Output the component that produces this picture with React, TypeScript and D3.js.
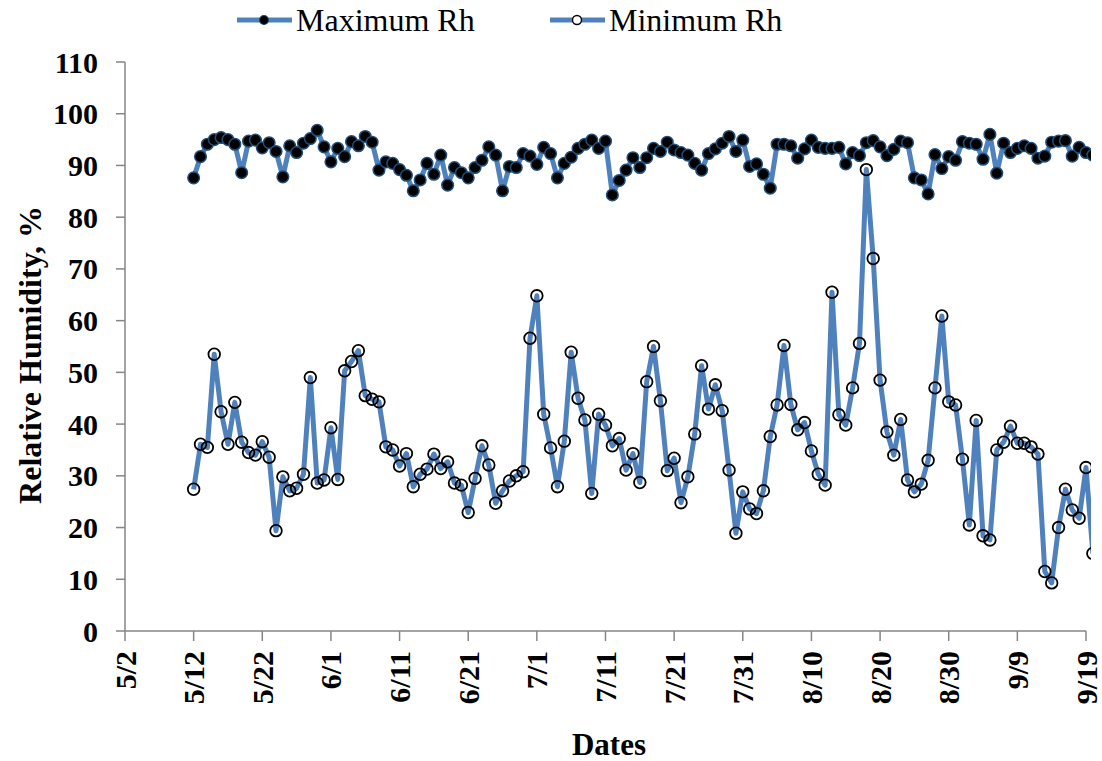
import React from "react";
import * as d3 from "d3";

// Daily relative humidity, 5/12 .. 9/20 (last point clipped by plot edge)
const startDay = 10; // 5/12 is 10 days after 5/2
const maxRh: number[] = [
  87.6, 91.7, 94.1, 95.0, 95.4, 95.0, 94.1, 88.6, 94.7, 94.9, 93.4, 94.4, 92.7, 87.8, 93.8, 92.5, 94.3, 95.2, 96.8, 93.6,
  90.7, 93.3, 91.7, 94.6, 93.8, 95.6, 94.5, 89.1, 90.7, 90.4, 89.2, 88.1, 85.1, 87.2, 90.4, 88.3, 92.0, 86.2, 89.6, 88.6,
  87.6, 89.6, 91.0, 93.6, 92.0, 85.1, 89.8, 89.6, 92.3, 91.8,
  90.2, 93.5, 92.3, 87.6, 90.4, 91.6, 93.3, 94.1, 94.9, 93.3, 94.7, 84.3, 87.1, 89.1, 91.5, 89.6, 91.5, 93.3, 92.7, 94.5,
  93.0, 92.5, 92.0, 90.4, 89.1, 92.3, 93.2, 94.3, 95.6, 92.7, 94.9,
  89.8, 90.3, 88.3, 85.6, 94.1, 94.1, 93.8, 91.4, 93.2, 94.9, 93.5, 93.3, 93.3, 93.5, 90.3, 92.5, 91.9, 94.4, 94.8, 93.6,
  91.9, 93.1, 94.7, 94.4, 87.6, 87.2, 84.5, 92.1, 89.4, 91.7, 91.0,
  94.6, 94.3, 94.1, 91.2, 96.0, 88.5, 94.3, 92.5, 93.3, 93.8, 93.3, 91.4, 91.8, 94.5, 94.7, 94.8, 91.8, 93.5, 92.5, 92.0,
];
const minRh: number[] = [
  27.4, 36.1, 35.5, 53.5, 42.4, 36.1, 44.2, 36.5, 34.5, 34.0, 36.6, 33.6, 19.4, 29.8, 27.1, 27.6, 30.3, 49.0, 28.6, 29.2,
  39.3, 29.3, 50.3, 52.1, 54.2, 45.5, 44.8, 44.3, 35.6, 35.0, 31.9, 34.3, 27.9, 30.3, 31.3, 34.2, 31.4, 32.7, 28.6, 28.2,
  22.9, 29.5, 35.8, 32.1, 24.7, 27.1, 29.0, 30.0, 30.8, 56.6,
  64.8, 41.9, 35.4, 27.9, 36.7, 53.9, 45.0, 40.8, 26.6, 41.9, 39.8, 35.8, 37.2, 31.1, 34.3, 28.7, 48.2, 55.0, 44.5, 31.0,
  33.4, 24.8, 29.8, 38.1, 51.3, 42.9, 47.6, 42.6, 31.1, 18.9, 26.9,
  23.6, 22.7, 27.1, 37.6, 43.7, 55.2, 43.8, 38.9, 40.3, 34.8, 30.3, 28.2, 65.5, 41.8, 39.8, 47.0, 55.6, 89.2, 72.0, 48.5,
  38.5, 34.0, 40.9, 29.2, 26.9, 28.4, 33.0, 47.0, 60.9, 44.3, 43.7,
  33.2, 20.5, 40.7, 18.4, 17.6, 35.0, 36.5, 39.6, 36.3, 36.3, 35.6, 34.2, 11.5, 9.3, 20.0, 27.4, 23.4, 21.8, 31.6, 15.0,
];
const xTickLabels: string[] = [
  "5/2", "5/12", "5/22", "6/1", "6/11", "6/21", "7/1", "7/11", "7/21", "7/31", "8/10", "8/20", "8/30", "9/9", "9/19",
];
const yTicks: number[] = [0, 10, 20, 30, 40, 50, 60, 70, 80, 90, 100, 110];
const seriesNames: string[] = ["Maximum Rh", "Minimum Rh"];

const FONT = "'Liberation Serif', 'Times New Roman', serif";
const LINE = "#4f81bd";
const AXIS = "#868686";

export default function App() {
  const W = 1102, H = 761;
  const left = 125, right = 1086, top = 62, bottom = 631;
  const x = d3.scaleLinear().domain([0, 140]).range([left, right]);
  const y = d3.scaleLinear().domain([0, 110]).range([bottom, top]);
  const line = d3
    .line<number>()
    .x((_, i) => x(startDay + i))
    .y((d) => y(d));

  return (
    <svg width={W} height={H} style={{ position: "absolute", left: 0, top: 0, background: "#fff" }}>
      <defs>
        <clipPath id="plotclip">
          <rect x={left} y={0} width={1091 - left} height={H} />
        </clipPath>
      </defs>
      {/* axes */}
      <line x1={left} x2={left} y1={top} y2={bottom} stroke={AXIS} strokeWidth={1.5} />
      <line x1={left} x2={right} y1={bottom} y2={bottom} stroke={AXIS} strokeWidth={1.5} />
      {yTicks.map((t) => (
        <g key={t}>
          <line x1={left - 9} x2={left} y1={y(t)} y2={y(t)} stroke={AXIS} strokeWidth={1.5} />
          <text
            x={98}
            y={y(t)}
            dy="0.35em"
            textAnchor="end"
            fontFamily={FONT}
            fontWeight="bold"
            fontSize={30}
            fill="#000"
          >
            {t}
          </text>
        </g>
      ))}
      {xTickLabels.map((lab, i) => (
        <g key={lab}>
          <line x1={x(i * 10)} x2={x(i * 10)} y1={bottom} y2={bottom + 10} stroke={AXIS} strokeWidth={1.5} />
          <text
            transform={`translate(${x(i * 10)},${bottom + 20}) rotate(-90)`}
            dy="0.35em"
            textAnchor="end"
            fontFamily={FONT}
            fontWeight="bold"
            fontSize={30}
            fill="#000"
          >
            {lab}
          </text>
        </g>
      ))}
      {/* axis titles */}
      <text x={609} y={755} textAnchor="middle" fontFamily={FONT} fontWeight="bold" fontSize={31} fill="#000">
        Dates
      </text>
      <text
        transform={`translate(41,355) rotate(-90)`}
        textAnchor="middle"
        fontFamily={FONT}
        fontWeight="bold"
        fontSize={32}
        fill="#000"
      >
        Relative Humidity, %
      </text>
      {/* series */}
      <g clipPath="url(#plotclip)">
        <path d={line(maxRh) ?? ""} fill="none" stroke={LINE} strokeWidth={5} strokeLinejoin="round" />
        <path d={line(minRh) ?? ""} fill="none" stroke={LINE} strokeWidth={5} strokeLinejoin="round" />
        {maxRh.map((v, i) => (
          <circle key={"a" + i} cx={x(startDay + i)} cy={y(v)} r={5.8} fill="#000" stroke="#1f4e79" strokeWidth={1.5} />
        ))}
        {minRh.map((v, i) => (
          <circle key={"b" + i} cx={x(startDay + i)} cy={y(v)} r={5.8} fill="none" stroke="#000" strokeWidth={1.8} />
        ))}
      </g>
      {/* legend */}
      {seriesNames.map((name, i) => {
        const lx = i === 0 ? 237 : 550;
        return (
          <g key={name}>
            <line x1={lx} x2={lx + 55} y1={20} y2={20} stroke={LINE} strokeWidth={5} />
            {i === 0 ? (
              <circle cx={lx + 27} cy={20} r={4.5} fill="#000" stroke="#1f4e79" strokeWidth={1.2} />
            ) : (
              <circle cx={lx + 27} cy={20} r={4.5} fill="#fff" stroke="#000" strokeWidth={1.4} />
            )}
            <text x={lx + 59} y={31} fontFamily={FONT} fontSize={32} fill="#000">
              {name}
            </text>
          </g>
        );
      })}
    </svg>
  );
}
